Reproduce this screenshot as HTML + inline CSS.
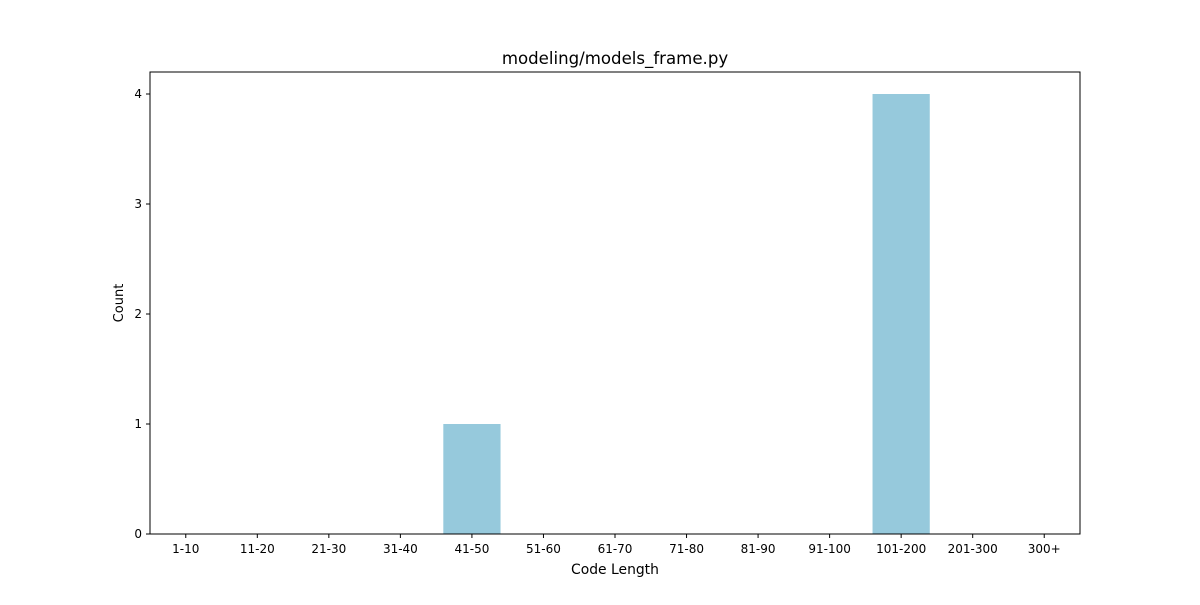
<!DOCTYPE html>
<html><head><meta charset="utf-8"><style>
body{margin:0;background:#fff;}
svg text{font-family:"DejaVu Sans","Liberation Sans",sans-serif;fill:#000;}
</style></head><body>
<svg id="chart" width="1200" height="600">
<rect width="1200" height="600" fill="#fff"/>
</svg>
<script>
const categories=["1-10","11-20","21-30","31-40","41-50","51-60","61-70","71-80","81-90","91-100","101-200","201-300","300+"];
const counts=[0,0,0,0,1,0,0,0,0,0,4,0,0];
const yTicks=[0,1,2,3,4];
const svg=document.getElementById('chart');
const NS='http://www.w3.org/2000/svg';
const L=150,R=1080,T=72,B=534,yMax=4.2;
const step=(R-L)/categories.length;
const x=i=>L+step*(i+0.5);
const y=v=>B-(B-T)*v/yMax;
function mk(tag,attrs,parent){const e=document.createElementNS(NS,tag);for(const k in attrs)e.setAttribute(k,attrs[k]);(parent||svg).appendChild(e);return e;}
counts.forEach((v,i)=>{
  const r=mk('rect',{x:x(i)-step*0.4,y:y(v),width:step*0.8,height:B-y(v),fill:'#96c9dc'});
  
  
});
const frame=mk('rect',{x:L,y:T,width:R-L,height:B-T,fill:'none',stroke:'#000','stroke-width':1});


categories.forEach((c,i)=>{
  mk('line',{x1:x(i),x2:x(i),y1:B,y2:B+4,stroke:'#000'});
  const t=mk('text',{x:x(i),y:B+19,'text-anchor':'middle','font-size':12});
  t.textContent=c;
  
  
});
yTicks.forEach(v=>{
  mk('line',{x1:L-4,x2:L,y1:y(v),y2:y(v),stroke:'#000'});
  const t=mk('text',{x:L-8,y:y(v)+4,'text-anchor':'end','font-size':12});
  t.textContent=v;
  
  
});
const xt=mk('text',{x:(L+R)/2,y:574,'text-anchor':'middle','font-size':13.9});
xt.textContent='Code Length';


const yt=mk('text',{x:123,y:(T+B)/2,'text-anchor':'middle','font-size':13,transform:'rotate(-90 123 '+(T+B)/2+')'});
yt.textContent='Count';


const tt=mk('text',{x:(L+R)/2,y:64,'text-anchor':'middle','font-size':16.6});
tt.textContent='modeling/models_frame.py';


</script>
</body></html>
